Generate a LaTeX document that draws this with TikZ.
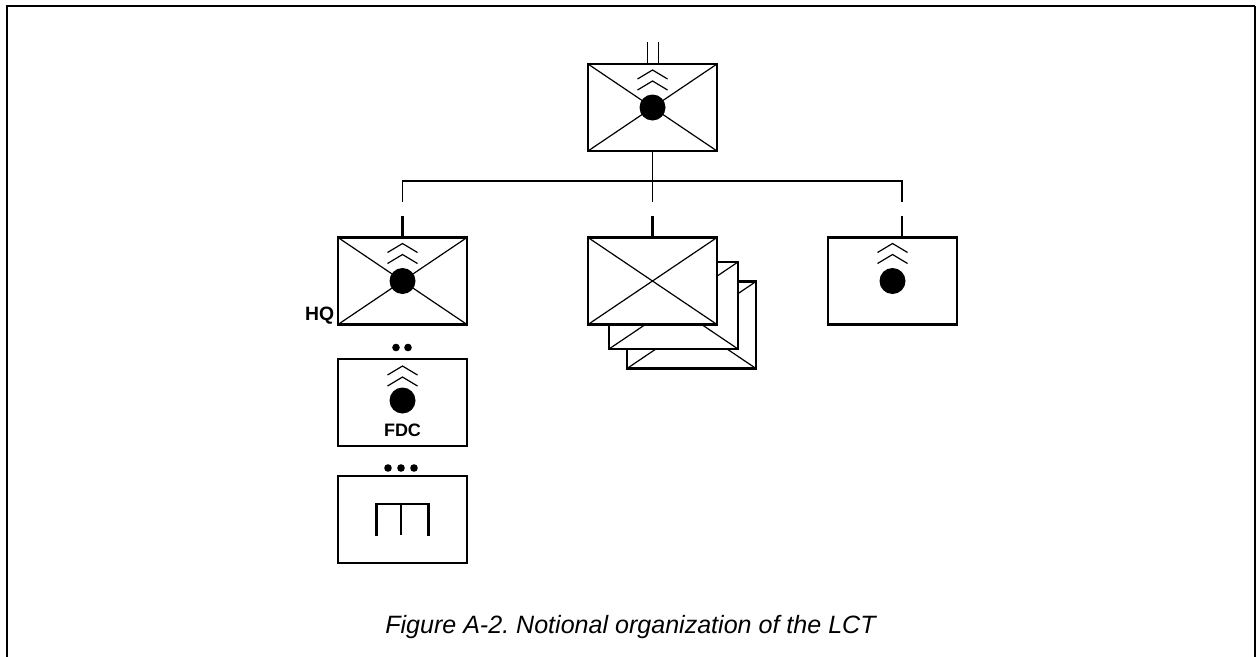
\documentclass[tikz,border=0pt]{standalone}
\usepackage{fontspec}
\setmainfont{Liberation Sans}
\usetikzlibrary{calc}
\begin{document}
\begin{tikzpicture}[x=0.75pt,y=-0.75pt,
  unitbox/.style={draw, line width=1.6pt, fill=white, inner sep=0pt, outer sep=0pt,
    minimum width=96.75pt, minimum height=65.25pt},
  diag/.style={line width=0.9pt},
  bus/.style={line width=1.3pt},
  stub/.style={line width=2.2pt},
  chevline/.style={line width=0.9pt},
  lbl/.style={font=\bfseries\fontsize{14.5}{16}\selectfont, inner sep=0pt},
  pics/chevrons/.style={code={
    \draw[chevline] (-15,9) -- (0,0) -- (15,9);
    \draw[chevline] (-15,20) -- (0,11) -- (15,20);
  }}
]
\useasboundingbox (0,0) rectangle (1258,657);

% frame, open at the bottom
\draw[line width=1.5pt] (7,657) -- (7,6) -- (1255,6);
\draw[line width=2.2pt] (1255,6) -- (1255,657);

% headquarters at the top
\node[unitbox] (top) at (652.5,107.5) {};
\draw[diag] (top.north west) -- (top.south east);
\draw[diag] (top.south west) -- (top.north east);
\pic at ($(top.north)+(0,6)$) {chevrons};
\fill (top.center) circle[radius=13];
\draw[bus] ($(top.north)+(-5,-22)$) -- ($(top.north)+(-5,0)$);
\draw[bus] ($(top.north)+(6,-22)$) -- ($(top.north)+(6,0)$);

% bus line
\coordinate (busL) at (402.5,181);
\coordinate (busR) at (902,181);
\coordinate (busM) at (top.south |- busL);
\draw[bus] (top.south) -- (busM);
\draw[bus] (busL |- 0,202) -- (busL) -- (busR) -- (busR |- 0,202);
\draw[bus] (busM) -- (busM |- 0,202);

% left column: HQ
\node[unitbox] (hq) at (402.5,281) {};
\draw[diag] (hq.north west) -- (hq.south east);
\draw[diag] (hq.south west) -- (hq.north east);
\pic at ($(hq.north)+(0,6)$) {chevrons};
\fill (hq.center) circle[radius=13];
\coordinate (hqin) at (busL |- 0,216);
\draw[stub] (hqin) -- (hq.north);
\node[lbl, anchor=east] (hqlbl) at (334.5,316) {HQ};

% left column: FDC
\fill (396,347.5) circle[radius=3.8] (408,347.5) circle[radius=3.8];
\node[unitbox] (fdc) at (402.5,402.5) {};
\pic at ($(fdc.north)+(0,7)$) {chevrons};
\fill ($(fdc.center)+(0,-2)$) circle[radius=13];
\node[lbl, font=\bfseries\fontsize{13.5}{15}\selectfont] (fdclbl) at (402.5,430) {FDC};

% left column: bottom box
\fill (388,468) circle[radius=3.8] (401,468) circle[radius=3.8] (414,468) circle[radius=3.8];
\node[unitbox] (sec) at (402.5,519.5) {};
\draw[line width=1.7pt] ($(sec.center)+(-26,16)$) -- ($(sec.center)+(-26,-15.5)$)
  -- ($(sec.center)+(26,-15.5)$) -- ($(sec.center)+(26,16)$);
\draw[line width=1.7pt] ($(sec.center)+(-1.5,-15.5)$) -- ($(sec.center)+(-1.5,15)$);

% middle: stack of three units
\node[unitbox] (m3) at (691.5,325) {};
\draw[diag] (m3.north west) -- (m3.south east);
\draw[diag] (m3.south west) -- (m3.north east);
\node[unitbox] (m2) at (673.5,305.5) {};
\draw[diag] (m2.north west) -- (m2.south east);
\draw[diag] (m2.south west) -- (m2.north east);
\node[unitbox] (m1) at (652.5,281) {};
\draw[diag] (m1.north west) -- (m1.south east);
\draw[diag] (m1.south west) -- (m1.north east);
\coordinate (m1in) at (busM |- 0,216);
\draw[stub] (m1in) -- (m1.north);

% right unit
\node[unitbox] (rt) at (892.5,281) {};
\pic at ($(rt.north)+(0,6)$) {chevrons};
\fill (rt.center) circle[radius=13];
\coordinate (rtin) at (busR |- 0,216);
\draw[stub] (rtin) -- (rtin |- rt.north);

% caption
\node[font=\itshape\fontsize{18.8}{22}\selectfont, inner sep=0pt] (cap) at (630.5,627)
  {\frenchspacing Figure A-2. Notional organization of the LCT};
\end{tikzpicture}
\end{document}
